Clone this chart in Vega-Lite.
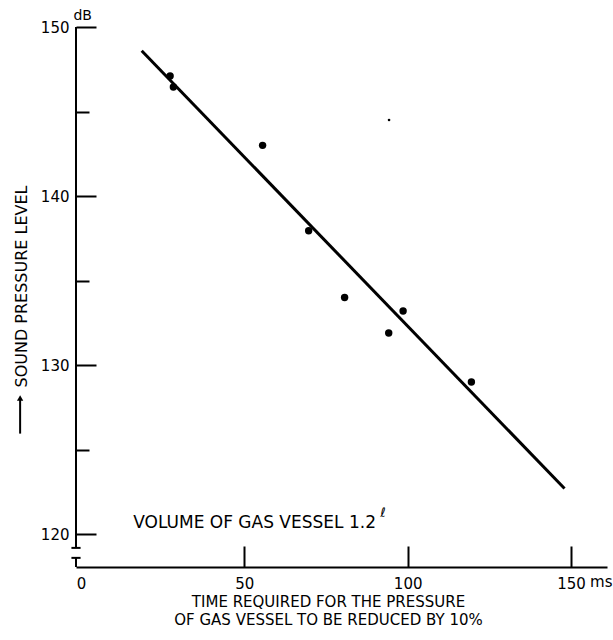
{
  "$schema": "https://vega.github.io/schema/vega-lite/v6.json",
  "width": 531,
  "height": 540,
  "autosize": "none",
  "padding": {"left": 76, "top": 27, "right": 6, "bottom": 73},
  "background": "white",
  "config": {
    "view": {"stroke": null},
    "font": "DejaVu Sans",
    "axis": {"grid": false, "labelFont": "DejaVu Sans", "titleFont": "DejaVu Sans", "labelColor": "black", "titleColor": "black", "titleFontWeight": "normal"}
  },
  "datasets": {
    "points": [
      {"t": 27.3, "spl": 147.1},
      {"t": 28.3, "spl": 146.45},
      {"t": 55.6, "spl": 143.0},
      {"t": 69.7, "spl": 137.95},
      {"t": 80.7, "spl": 134.0},
      {"t": 94.2, "spl": 131.9},
      {"t": 98.6, "spl": 133.2},
      {"t": 119.5, "spl": 129.0}
    ],
    "fit": [
      {"t": 18.6, "spl": 148.6},
      {"t": 148.0, "spl": 122.7}
    ],
    "speck": [
      {"t": 94.3, "spl": 144.5}
    ]
  },
  "layer": [
    {
      "data": {"name": "points"},
      "mark": {"type": "circle", "size": 55, "color": "black", "opacity": 1},
      "encoding": {
        "x": {
          "field": "t", "type": "quantitative",
          "scale": {"domain": [-1.5, 161], "nice": false, "zero": false},
          "axis": {
            "values": [0, 50, 100, 150],
            "domain": true, "domainColor": "black", "domainWidth": 2,
            "ticks": true, "tickSize": -21, "tickWidth": 2, "tickColor": "black",
            "tickOpacity": {"condition": {"test": "datum.value == 0", "value": 0}, "value": 1},
            "labelPadding": 30, "labelFontSize": 15, "labelFlush": false, "labelOverlap": false,
            "title": ["TIME REQUIRED FOR THE PRESSURE", "OF GAS VESSEL TO BE REDUCED BY 10%"],
            "titleFontSize": 15, "titleX": 252, "titleY": 27, "titleAlign": "center",
            "titleBaseline": "top", "titleLineHeight": 18
          }
        },
        "y": {
          "field": "spl", "type": "quantitative",
          "scale": {"domain": [118.06, 150], "nice": false, "zero": false},
          "axis": {
            "values": [120, 125, 130, 135, 140, 145, 150],
            "domain": false,
            "ticks": true,
            "tickSize": {"condition": {"test": "datum.value % 10 == 0", "value": -20}, "value": -13},
            "tickWidth": 2, "tickColor": "black",
            "labelExpr": "datum.value % 10 == 0 ? datum.label : ''",
            "labelPadding": 27, "labelFontSize": 15, "labelFlush": false, "labelOverlap": false,
            "labelBaseline": "middle",
            "title": "SOUND PRESSURE LEVEL",
            "titleFontSize": 16, "titleX": -55, "titleY": 360, "titleAngle": 270,
            "titleAlign": "left", "titleBaseline": "middle"
          }
        }
      }
    },
    {
      "data": {"name": "fit"},
      "mark": {"type": "line", "color": "black", "strokeWidth": 3},
      "encoding": {
        "x": {"field": "t", "type": "quantitative"},
        "y": {"field": "spl", "type": "quantitative"}
      }
    },
    {
      "data": {"name": "speck"},
      "mark": {"type": "circle", "size": 7, "color": "black", "opacity": 1},
      "encoding": {
        "x": {"field": "t", "type": "quantitative"},
        "y": {"field": "spl", "type": "quantitative"}
      }
    },
    {
      "data": {"values": [{}]},
      "mark": {"type": "rule", "color": "black", "strokeWidth": 2},
      "encoding": {
        "x": {"datum": -1.5, "type": "quantitative"},
        "y": {"datum": 150, "type": "quantitative"},
        "y2": {"datum": 119.19}
      }
    },
    {
      "data": {"values": [{}]},
      "mark": {"type": "rule", "color": "black", "strokeWidth": 2},
      "encoding": {
        "x": {"datum": -1.5, "type": "quantitative"},
        "y": {"datum": 118.6, "type": "quantitative"},
        "y2": {"datum": 118.06}
      }
    },
    {
      "data": {"values": [{}]},
      "mark": {"type": "rule", "color": "black", "strokeWidth": 2},
      "encoding": {
        "x": {"datum": -2.9, "type": "quantitative"},
        "x2": {"datum": -0.1},
        "y": {"datum": 119.19, "type": "quantitative"}
      }
    },
    {
      "data": {"values": [{}]},
      "mark": {"type": "rule", "color": "black", "strokeWidth": 2},
      "encoding": {
        "x": {"datum": -2.9, "type": "quantitative"},
        "x2": {"datum": -0.1},
        "y": {"datum": 118.6, "type": "quantitative"}
      }
    },
    {
      "data": {"values": [{}]},
      "mark": {"type": "rule", "color": "black", "strokeWidth": 2},
      "encoding": {
        "x": {"datum": -18.6, "type": "quantitative"},
        "y": {"datum": 128.0, "type": "quantitative"},
        "y2": {"datum": 125.95}
      }
    },
    {
      "data": {"values": [{}]},
      "mark": {"type": "point", "shape": "triangle-up", "size": 40, "filled": true, "color": "black", "opacity": 1},
      "encoding": {
        "x": {"datum": -18.6, "type": "quantitative"},
        "y": {"datum": 128.05, "type": "quantitative"}
      }
    },
    {
      "data": {"values": [{"label": "dB"}]},
      "mark": {"type": "text", "align": "left", "baseline": "alphabetic", "fontSize": 14, "dy": -7, "color": "black"},
      "encoding": {
        "x": {"datum": -2.3, "type": "quantitative"},
        "y": {"datum": 150, "type": "quantitative"},
        "text": {"field": "label"}
      }
    },
    {
      "data": {"values": [{"label": "ms"}]},
      "mark": {"type": "text", "align": "left", "baseline": "alphabetic", "fontSize": 15, "dx": 19, "dy": 20, "color": "black"},
      "encoding": {
        "x": {"datum": 150, "type": "quantitative"},
        "y": {"datum": 118.06, "type": "quantitative"},
        "text": {"field": "label"}
      }
    },
    {
      "data": {"values": [{"label": "VOLUME OF GAS VESSEL 1.2"}]},
      "mark": {"type": "text", "align": "left", "baseline": "middle", "fontSize": 17, "color": "black"},
      "encoding": {
        "x": {"datum": 16, "type": "quantitative"},
        "y": {"datum": 120.67, "type": "quantitative"},
        "text": {"field": "label"}
      }
    },
    {
      "data": {"values": [{"label": "ℓ"}]},
      "mark": {"type": "text", "align": "left", "baseline": "middle", "fontSize": 13, "dx": 247, "dy": -10, "color": "black"},
      "encoding": {
        "x": {"datum": 16, "type": "quantitative"},
        "y": {"datum": 120.67, "type": "quantitative"},
        "text": {"field": "label"}
      }
    }
  ]
}
